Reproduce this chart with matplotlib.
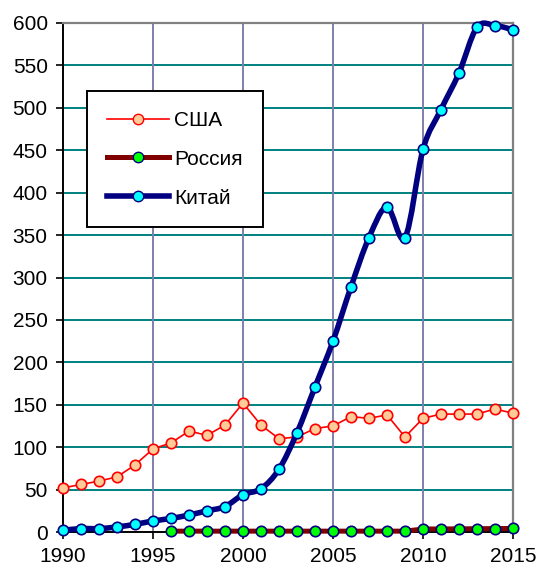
import matplotlib.pyplot as plt
import numpy as np
from matplotlib.path import Path
from matplotlib.patches import PathPatch
from matplotlib.lines import Line2D

plt.rcParams['font.family'] = ['Liberation Sans', 'DejaVu Sans']

years = list(range(1990, 2016))
usa = [52, 56, 60, 65, 79, 98, 105, 119, 114, 126, 152, 126, 110, 112, 122, 125,
       136, 134, 138, 112, 134, 139, 139, 139, 145, 140]
russia_years = list(range(1996, 2016))
russia = [1, 1, 1, 1, 1, 1, 1, 1, 1, 1, 1, 1, 1, 1, 3.5, 3.6, 3.7, 3.9, 4.0, 4.2]
china = [2, 4, 4, 6, 9, 13, 16, 20, 25, 30, 44, 51, 74, 117, 171, 225,
         289, 347, 383, 347, 451, 498, 541, 595, 597, 592]


def smooth_path(x, y):
    # Bezier segments through the points, like a smoothed spreadsheet line
    x = np.asarray(x, float)
    y = np.asarray(y, float)
    n = len(x)
    verts = [(x[0], y[0])]
    codes = [Path.MOVETO]
    for i in range(n - 1):
        x0, y0 = (x[i - 1], y[i - 1]) if i > 0 else (x[i], y[i])
        x3, y3 = (x[i + 2], y[i + 2]) if i + 2 < n else (x[i + 1], y[i + 1])
        c1 = (x[i] + (x[i + 1] - x0) / 6, y[i] + (y[i + 1] - y0) / 6)
        c2 = (x[i + 1] - (x3 - x[i]) / 6, y[i + 1] - (y3 - y[i]) / 6)
        verts += [c1, c2, (x[i + 1], y[i + 1])]
        codes += [Path.CURVE4] * 3
    return Path(verts, codes)


fig = plt.figure(figsize=(5.39, 5.70), dpi=100)
ax = fig.add_axes([63 / 539, 1 - 532 / 570, 450 / 539, 509 / 570])

for v in range(50, 601, 50):
    ax.axhline(v, color='#008080', lw=1.4, zorder=1)
for yr in range(1995, 2015, 5):
    ax.axvline(yr, color='#7F7FAA', lw=1.4, zorder=1)

ax.plot(years, usa, color='red', lw=1.2, marker='o', ms=7.5,
        mfc='#FFCC99', mec='red', mew=1.2, clip_on=False, zorder=3)
ax.plot(russia_years, russia, color='#800000', lw=3.6, marker='o', ms=7.5,
        mfc='#00FF00', mec='#000080', mew=1.2, clip_on=False, zorder=4)
ax.add_patch(PathPatch(smooth_path(years, china), fc='none', ec='#000080',
                       lw=4, zorder=5, clip_on=False))
ax.plot(years, china, ls='none', marker='o', ms=7.5,
        mfc='#00FFFF', mec='#000080', mew=1.2, clip_on=False, zorder=6)

ax.set_xlim(1990, 2015)
ax.set_ylim(0, 600)
ax.set_xticks(range(1990, 2016, 5))
ax.set_yticks(range(0, 601, 50))
ax.tick_params(labelsize=15, length=5, width=1.2, color='black', pad=6)

for s in ['top', 'right']:
    ax.spines[s].set_color('#808080')
    ax.spines[s].set_linewidth(1.6)
for s in ['left', 'bottom']:
    ax.spines[s].set_color('black')
    ax.spines[s].set_linewidth(1.4)

handles = [
    Line2D([], [], color='red', lw=1.2, marker='o', ms=7.5, mfc='#FFCC99', mec='red'),
    Line2D([], [], color='#800000', lw=3.6, marker='o', ms=7.5, mfc='#00FF00', mec='#000080'),
    Line2D([], [], color='#000080', lw=4, marker='o', ms=7.5, mfc='#00FFFF', mec='#000080'),
]
leg = ax.legend(handles, ['США', 'Россия', 'Китай'], loc='upper left',
                bbox_to_anchor=(0.053, 0.866), borderaxespad=0, fontsize=15,
                frameon=True, fancybox=False, edgecolor='black', framealpha=1,
                handlelength=3.0, labelspacing=0.95, borderpad=0.95,
                handletextpad=0.25)
leg.get_frame().set_linewidth(1.4)
leg.set_zorder(10)

fig.savefig('out.png', dpi=100, facecolor='white')
